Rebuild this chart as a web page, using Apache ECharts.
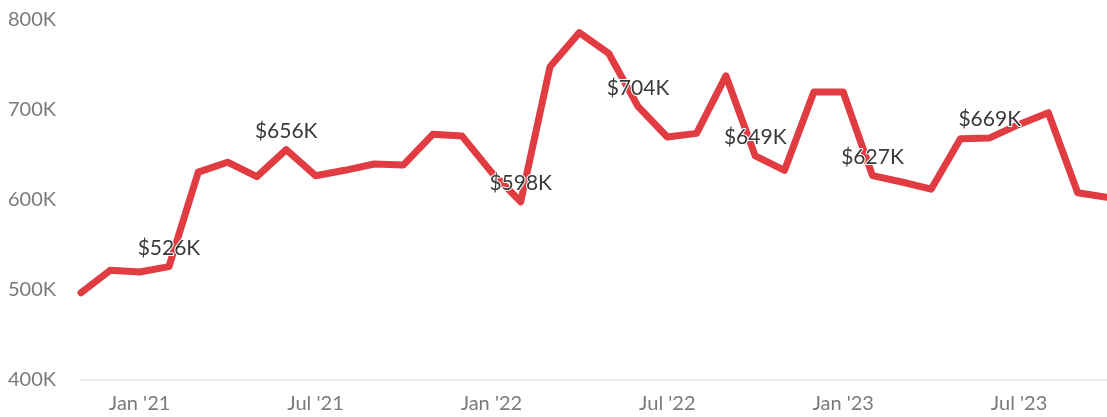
<!DOCTYPE html>
<html>
<head>
<meta charset="utf-8">
<script src="https://cdn.jsdelivr.net/npm/echarts@6/dist/echarts.min.js"></script>
<style>
  html, body { margin: 0; padding: 0; background: #fff; }
  #chart { width: 1107px; height: 417px; }
</style>
</head>
<body>
<div id="chart"></div>
<script>
// monthly, Nov 2020 .. Oct 2023
const months = [
  "Nov '20", "Dec '20",
  "Jan '21", "Feb '21", "Mar '21", "Apr '21", "May '21", "Jun '21",
  "Jul '21", "Aug '21", "Sep '21", "Oct '21", "Nov '21", "Dec '21",
  "Jan '22", "Feb '22", "Mar '22", "Apr '22", "May '22", "Jun '22",
  "Jul '22", "Aug '22", "Sep '22", "Oct '22", "Nov '22", "Dec '22",
  "Jan '23", "Feb '23", "Mar '23", "Apr '23", "May '23", "Jun '23",
  "Jul '23", "Aug '23", "Sep '23", "Oct '23"
]
const values = [
  497000, 522000,
  520000, 526000, 631000, 642000, 626000, 656000,
  627000, 633000, 640000, 639000, 673000, 671000,
  631000, 598000, 748000, 786000, 763000, 704000,
  670000, 674000, 738000, 649000, 633000, 720000,
  720000, 627000, 620000, 612000, 668000, 669000,
  684000, 697000, 608000, 603000
]
// points that carry a value label
const labelledMonths = ["Feb '21", "Jun '21", "Feb '22", "Jun '22", "Oct '22", "Feb '23", "Jun '23"]
const xTickMonths = ["Jan '21", "Jul '21", "Jan '22", "Jul '22", "Jan '23", "Jul '23"]

const fmtK = v => Math.round(v / 1000) + 'K'

const chart = echarts.init(document.getElementById('chart'))

chart.setOption({
  animation: false,
  backgroundColor: '#fff',
  grid: { left: 81, right: 0, top: 20, bottom: 37 },
  xAxis: {
    type: 'category',
    data: months,
    boundaryGap: false,
    axisLine: { lineStyle: { color: '#e8e8e8', width: 2 } },
    axisTick: { show: false },
    axisLabel: {
      interval: (i, name) => xTickMonths.includes(name),
      color: '#7a7a7a',
      fontFamily: 'Lato',
      fontSize: 20,
      margin: 14
    }
  },
  yAxis: {
    type: 'value',
    min: 400000,
    max: 800000,
    interval: 100000,
    axisLine: { show: false },
    axisTick: { show: false },
    splitLine: { show: false },
    axisLabel: {
      formatter: fmtK,
      color: '#7a7a7a',
      fontFamily: 'Lato',
      fontSize: 20,
      margin: 25
    }
  },
  series: [{
    type: 'line',
    data: values.map((v, i) => ({
      value: v,
      label: { show: labelledMonths.includes(months[i]) }
    })),
    showSymbol: true,
    symbol: 'circle',
    symbolSize: 0,
    lineStyle: { color: '#e13c42', width: 7, cap: 'round', join: 'round' },
    itemStyle: { color: '#e13c42' },
    label: {
      position: 'top',
      distance: 8,
      formatter: p => '$' + fmtK(p.value),
      color: '#3a3a3a',
      fontFamily: 'Lato',
      fontSize: 21,
      textBorderColor: '#fff',
      textBorderWidth: 2
    }
  }]
})
</script>
</body>
</html>
